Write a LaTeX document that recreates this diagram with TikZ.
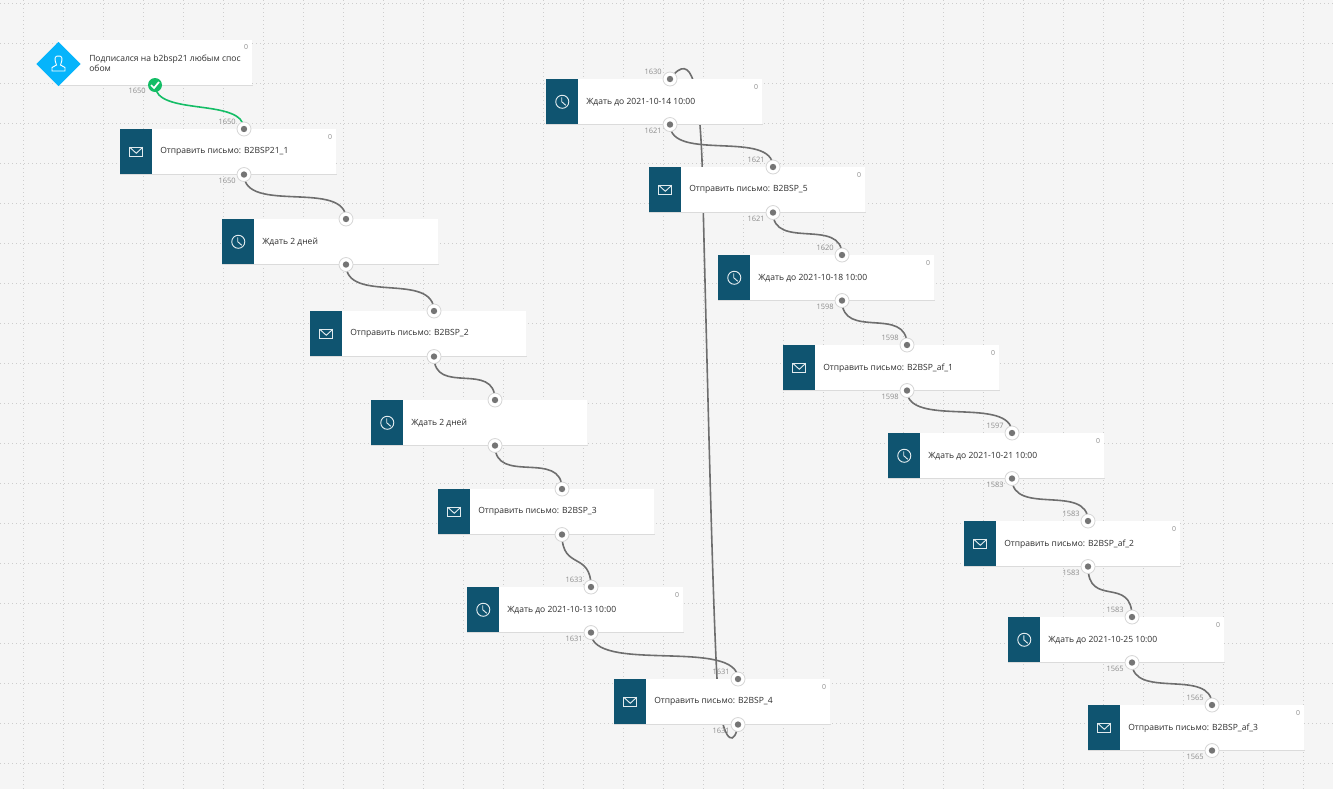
\documentclass[tikz,border=0pt]{standalone}
\usepackage{fontspec}
\setmainfont{Open Sans}
\usetikzlibrary{calc}
\definecolor{bgc}{HTML}{F5F5F5}
\definecolor{gridc}{HTML}{CDCDCD}
\definecolor{teal}{HTML}{0F5470}
\definecolor{sky}{HTML}{06B4FB}
\definecolor{okc}{HTML}{14BD66}
\definecolor{linec}{HTML}{6E6E6E}
\definecolor{portc}{HTML}{757575}
\definecolor{txtc}{HTML}{2E2E2E}
\definecolor{numc}{HTML}{8C8C8C}
\pgfdeclarelayer{back}
\pgfsetlayers{back,main}
\tikzset{
  x=0.75pt,y=-0.75pt,
  gridline/.style={gridc,line width=0.75pt,dash pattern=on 0.75pt off 2.25pt},
  card/.style={draw=none,fill=white,minimum width=162pt,minimum height=33.75pt,inner sep=0pt,anchor=north west},
  iconbox/.style={draw=none,fill=teal,minimum width=24pt,minimum height=33.75pt,inner sep=0pt,anchor=north west},
  port/.style={circle,draw=black!16,fill=white,line width=0.6pt,minimum size=10.5pt,inner sep=0pt},
  portdot/.style={circle,fill=portc,minimum size=4.8pt,inner sep=0pt},
  lbl/.style={font=\fontsize{6.4pt}{7.5pt}\selectfont,text=txtc,anchor=west,inner sep=0pt,align=left},
  zero/.style={font=\fontsize{5.2pt}{6pt}\selectfont,text=numc,inner sep=0pt},
  num/.style={font=\fontsize{5.6pt}{6pt}\selectfont,text=numc,inner sep=0pt,anchor=east},
  conn/.style={linec,line width=1.2pt},
  connok/.style={okc,line width=1.2pt},
  iconline/.style={white!88!teal,line width=0.7pt}
}
% name, left x, top y, icon, text, top label, bottom label, zero count
\newcommand{\flowcard}[8]{%
  \node[card] (#1) at (#2,#3) {};
  \draw[black!14,line width=0.75pt] (#1.south west) -- (#1.south east);
  \node[iconbox] (#1-i) at (#2,#3) {};
  \node[lbl] (#1-l) at ($(#1.west)+(40,0)$) {#5};
  \if\relax\detokenize{#8}\relax\else
    \node[zero] (#1-z) at ($(#1.north east)+(-6.5,8)$) {#8};
  \fi
  \node[port] (#1-t) at ($(#1.north west)+(124,0)$) {};
  \node[portdot] (#1-td) at (#1-t.center) {};
  \node[port] (#1-b) at ($(#1.south west)+(124,0)$) {};
  \node[portdot] (#1-bd) at (#1-b.center) {};
  \if\relax\detokenize{#6}\relax\else
    \node[num] (#1-tn) at ($(#1-t.center)+(-8,-7)$) {#6};
    \node[num] (#1-bn) at ($(#1-b.center)+(-8,6)$) {#7};
  \fi
  \csname icon#4\endcsname{#1-i}%
}
\newcommand{\iconmail}[1]{%
  \draw[iconline] ($(#1.center)+(-6.5,-4.5)$) rectangle ($(#1.center)+(6.5,4.5)$);
  \draw[iconline] ($(#1.center)+(-6.5,-4.5)$) -- ($(#1.center)+(0,1.5)$) -- ($(#1.center)+(6.5,-4.5)$);
}
\newcommand{\iconclock}[1]{%
  \draw[iconline] (#1.center) circle[radius=4.9pt];
  \draw[iconline] ($(#1.center)+(-0.5,-4.5)$) -- ($(#1.center)+(-0.5,0)$) -- ($(#1.center)+(3.5,3.5)$);
}
\newcommand{\linkS}[3]{%
  \begin{pgfonlayer}{back}
  \draw[conn] (#1.center) .. controls +(0,#3) and +(0,-#3) .. (#2.center);
  \end{pgfonlayer}
}
\begin{document}
\begin{tikzpicture}
\useasboundingbox (0,0) rectangle (1333,789);
\begin{pgfonlayer}{back}
\fill[bgc] (0,0) rectangle (1333,789);
\foreach \yy in {3,43,...,783} \draw[gridline] (0,\yy) -- (1333,\yy);
\foreach \xx in {23,63,...,1323} \draw[gridline] (\xx,0) -- (\xx,789);
\end{pgfonlayer}

% start card
\node[card,minimum width=145.5pt] (s) at (58,40) {};
\draw[black!14,line width=0.75pt] (s.south west) -- (s.south east);
\node[lbl] (s-l) at (89,63) {Подписался на b2bsp21 любым спос\\обом};
\node[zero] (s-z) at (246,47) {0};
\node[fill=sky,minimum size=23.5pt,rotate=45,inner sep=0pt] (s-i) at (58.5,64) {};
\draw[white,line width=0.7pt] ($(s-i.center)+(-6.5,7)$) -- ($(s-i.center)+(-6.5,3.5)$) -- ($(s-i.center)+(-2,1)$)
  .. controls ($(s-i.center)+(-5,-7)$) and ($(s-i.center)+(-3,-8)$) .. ($(s-i.center)+(0,-8)$)
  .. controls ($(s-i.center)+(3,-8)$) and ($(s-i.center)+(5,-7)$) .. ($(s-i.center)+(2,1)$)
  -- ($(s-i.center)+(6.5,3.5)$) -- ($(s-i.center)+(6.5,7)$) -- cycle;
\node[circle,fill=okc,minimum size=10.5pt,inner sep=0pt] (s-b) at (155,85) {};
\draw[white,line width=1.3pt] ($(s-b.center)+(-4,0)$) -- ($(s-b.center)+(-1,3)$) -- ($(s-b.center)+(4,-3)$);
\node[num] (s-bn) at (146,91) {1650};

\flowcard{n1}{120}{129}{mail}{Отправить письмо: B2BSP21\_1}{1650}{1650}{0}
\flowcard{n2}{222}{219}{clock}{Ждать 2 дней}{}{}{}
\flowcard{n3}{310}{311}{mail}{Отправить письмо: B2BSP\_2}{}{}{}
\flowcard{n4}{371}{400}{clock}{Ждать 2 дней}{}{}{}
\flowcard{n5}{438}{489}{mail}{Отправить письмо: B2BSP\_3}{}{}{}
\flowcard{n6}{467}{587}{clock}{Ждать до 2021-10-13 10:00}{1633}{1631}{0}
\flowcard{n7}{614}{679}{mail}{Отправить письмо: B2BSP\_4}{1631}{1631}{0}
\flowcard{n8}{546}{79}{clock}{Ждать до 2021-10-14 10:00}{1630}{1621}{0}
\flowcard{n9}{649}{167}{mail}{Отправить письмо: B2BSP\_5}{1621}{1621}{0}
\flowcard{n10}{718}{255}{clock}{Ждать до 2021-10-18 10:00}{1620}{1598}{0}
\flowcard{n11}{783}{345}{mail}{Отправить письмо: B2BSP\_af\_1}{1598}{1598}{0}
\flowcard{n12}{888}{433}{clock}{Ждать до 2021-10-21 10:00}{1597}{1583}{0}
\flowcard{n13}{964}{521}{mail}{Отправить письмо: B2BSP\_af\_2}{1583}{1583}{0}
\flowcard{n14}{1008}{617}{clock}{Ждать до 2021-10-25 10:00}{1583}{1565}{0}
\flowcard{n15}{1088}{705}{mail}{Отправить письмо: B2BSP\_af\_3}{1565}{1565}{0}

\begin{pgfonlayer}{back}
\draw[connok] (s-b.center) .. controls +(0,32) and +(0,-32) .. (n1-t.center);
\end{pgfonlayer}
\linkS{n1-b}{n2-t}{40}
\linkS{n2-b}{n3-t}{40}
\linkS{n3-b}{n4-t}{40}
\linkS{n4-b}{n5-t}{40}
\linkS{n5-b}{n6-t}{36}
\linkS{n6-b}{n7-t}{42}
\linkS{n8-b}{n9-t}{38}
\linkS{n9-b}{n10-t}{38}
\linkS{n10-b}{n11-t}{40}
\linkS{n11-b}{n12-t}{38}
\linkS{n12-b}{n13-t}{38}
\linkS{n13-b}{n14-t}{42}
\linkS{n14-b}{n15-t}{38}
\begin{pgfonlayer}{back}
\draw[conn] (n7-b.center) .. controls (735,745) and (725,745) .. (719,705)
  .. controls (714,665) and (708,400) .. (702,160)
  .. controls (699,90) and (693,48) .. (n8-t.center);
\end{pgfonlayer}
\end{tikzpicture}
\end{document}
